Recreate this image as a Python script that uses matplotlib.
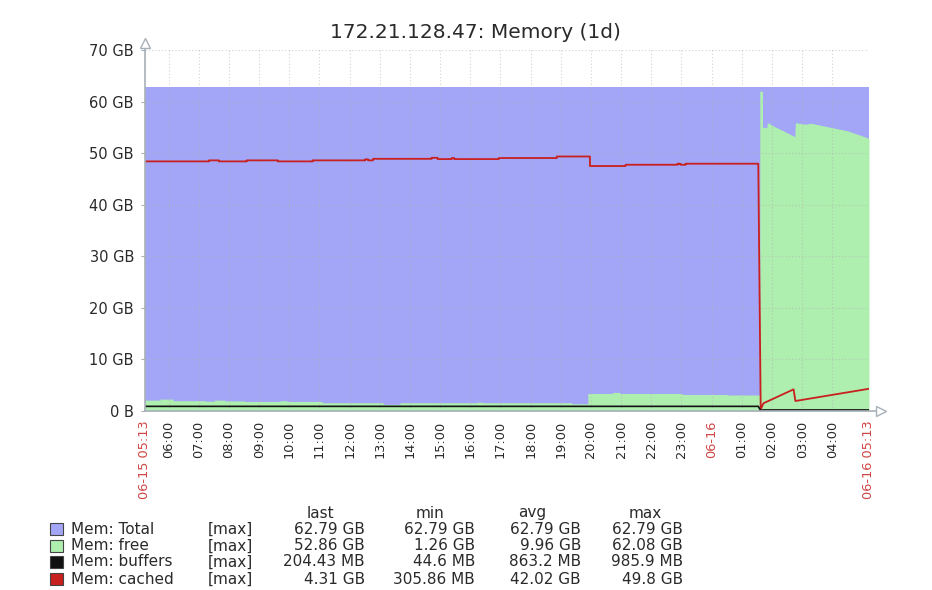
import matplotlib
matplotlib.use("Agg")
import matplotlib.pyplot as plt
from matplotlib.patches import Rectangle

W, H = 932, 590

# time axis: hours since 06-15 05:13, values in GB
total_t = [0, 24]
total_v = [62.79, 62.79]

# free: held values (step edges), then the part after the restart
free_step_t = [0, 0.5, 0.93, 2.0, 2.3, 2.65, 3.3, 4.47, 4.7, 5.87, 7.9, 8.45,
               11.0, 11.2, 14.15, 14.68, 15.5, 15.74, 17.8, 19.3, 20.38, 20.47]
free_step_v = [2.1, 2.3, 2.0, 1.9, 2.1, 1.95, 1.85, 2.0, 1.85, 1.6, 1.3, 1.6,
               1.7, 1.6, 1.4, 3.4, 3.6, 3.4, 3.2, 3.1, 62.0, 55.0]
free_step_end = 20.62
free_tail_t = [20.62, 20.72, 20.72, 21.54, 21.56, 21.9, 22.07, 23.27, 23.7, 24.0]
free_tail_v = [55.8, 55.8, 55.6, 53.2, 55.9, 55.6, 55.8, 54.35, 53.5, 52.86]

cached_step_t = [0, 2.12, 2.45, 3.37, 4.4, 5.56, 7.3, 7.4, 7.56, 9.5, 9.7,
                 10.17, 10.25, 11.73, 13.65, 14.75, 15.93, 17.65, 17.75, 17.92]
cached_step_v = [48.4, 48.6, 48.4, 48.6, 48.4, 48.6, 48.8, 48.6, 48.9, 49.1, 48.85,
                 49.05, 48.85, 49.05, 49.35, 47.5, 47.75, 47.95, 47.75, 47.95]
cached_step_end = 20.33
cached_tail_t = [20.33, 20.41, 20.5, 21.5, 21.56, 24.0]
cached_tail_v = [47.95, 0.3, 1.5, 4.2, 1.94, 4.31]

buffers_t = [0, 20.33, 20.41, 20.48, 24]
buffers_v = [0.9, 0.9, 0.05, 0.2, 0.2]

hour_ticks = [0.7833 + i for i in range(23)]
hour_labels = ["%02d:00" % h for h in range(6, 24)] + ["06-16"] + ["%02d:00" % h for h in range(1, 5)]
edge_labels = ["06-15 05:13", "06-16 05:13"]

y_ticks = [0, 10, 20, 30, 40, 50, 60, 70]
y_labels = ["0 B"] + ["%d GB" % v for v in y_ticks[1:]]

legend_names = ["Mem: Total", "Mem: free", "Mem: buffers", "Mem: cached"]
legend_func = ["[max]", "[max]", "[max]", "[max]"]
stat_last = ["62.79 GB", "52.86 GB", "204.43 MB", "4.31 GB"]
stat_min = ["62.79 GB", "1.26 GB", "44.6 MB", "305.86 MB"]
stat_avg = ["62.79 GB", "9.96 GB", "863.2 MB", "42.02 GB"]
stat_max = ["62.79 GB", "62.08 GB", "985.9 MB", "49.8 GB"]

c_total = "#a3a6f7"
c_free = "#aeeeae"
c_buffers = "#111111"
c_cached = "#c8201e"
c_text = "#2a2a2a"
c_red = "#d04444"
c_axis = "#a8b0b8"


def steps(edges, values, end):
    x, y = [], []
    for i, v in enumerate(values):
        x += [edges[i], edges[i + 1] if i + 1 < len(edges) else end]
        y += [v, v]
    return x, y


def fx(px):
    return px / W


def fy(py):
    return 1 - py / H


fig = plt.figure(figsize=(W / 100, H / 100), dpi=100)
ax = fig.add_axes([fx(145), fy(411), (869 - 145) / W, (411 - 50) / H])

ax.fill_between(total_t, 0, total_v, color=c_total, linewidth=0, zorder=1)

fx_s, fy_s = steps(free_step_t, free_step_v, free_step_end)
ax.fill_between(fx_s + free_tail_t, 0, fy_s + free_tail_v, color=c_free, linewidth=0, zorder=1.2)

cx, cy = steps(cached_step_t, cached_step_v, cached_step_end)
ax.plot(cx + cached_tail_t, cy + cached_tail_v, color=c_cached, linewidth=1.3, zorder=3)
ax.plot(buffers_t, buffers_v, color=c_buffers, linewidth=1.2, zorder=3)

ax.set_xlim(0, 24)
ax.set_ylim(0, 70)

ax.set_xticks([0] + hour_ticks + [24])
ax.set_xticklabels([edge_labels[0]] + hour_labels + [edge_labels[1]],
                   rotation=90, fontsize=9.3)
for lbl in ax.get_xticklabels():
    t = lbl.get_text()
    lbl.set_color(c_red if t.startswith("06-") else c_text)
ax.set_yticks(y_ticks)
ax.set_yticklabels(y_labels, fontsize=10.5, color=c_text)
ax.tick_params(axis="x", length=0, pad=7)
ax.tick_params(axis="y", length=3, color=c_axis, pad=5)

ax.set_axisbelow(False)
ax.grid(True, color="#b4b4b4", alpha=0.6, linestyle=(0, (1, 2)), linewidth=0.8, zorder=2.5)

for s in ax.spines.values():
    s.set_visible(False)
ax.plot([0, 0], [0, 1.012], transform=ax.transAxes, color=c_axis, lw=1.2, clip_on=False, zorder=4)
ax.plot([0, 1.011], [0, 0], transform=ax.transAxes, color=c_axis, lw=1.2, clip_on=False, zorder=4)
ax.plot([0], [1.02], marker="^", markersize=7, markerfacecolor="white", markeredgecolor=c_axis,
        transform=ax.transAxes, clip_on=False, zorder=5)
ax.plot([1.016], [0], marker=">", markersize=7, markerfacecolor="white", markeredgecolor=c_axis,
        transform=ax.transAxes, clip_on=False, zorder=5)

fig.text(fx(475), fy(32), "172.21.128.47: Memory (1d)", ha="center", va="center",
         fontsize=14.5, color=c_text)

# legend table
swatch_colors = [c_total, c_free, c_buffers, c_cached]
row_y = [529, 546, 562, 579]
for hx, h in zip([320, 430, 532, 645], ["last", "min", "avg", "max"]):
    fig.text(fx(hx), fy(513), h, ha="center", va="center", fontsize=11, color=c_text)
for i, name in enumerate(legend_names):
    y = row_y[i]
    fig.patches.append(Rectangle((fx(50), fy(y + 6)), 13 / W, 12 / H, transform=fig.transFigure,
                                 facecolor=swatch_colors[i], edgecolor="#444444", linewidth=0.8))
    fig.text(fx(71), fy(y), name, ha="left", va="center", fontsize=11, color=c_text)
    fig.text(fx(208), fy(y), legend_func[i], ha="left", va="center", fontsize=11, color=c_text)
    for rx, col in zip([365, 475, 581, 683], [stat_last, stat_min, stat_avg, stat_max]):
        fig.text(fx(rx), fy(y), col[i], ha="right", va="center", fontsize=11, color=c_text)

fig.savefig("out.png", dpi=100)
